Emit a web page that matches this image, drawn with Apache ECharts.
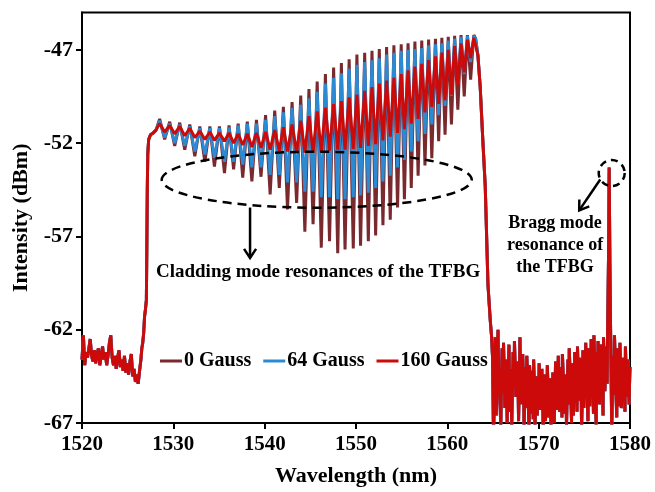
<!DOCTYPE html>
<html><head><meta charset="utf-8">
<script src="https://cdn.jsdelivr.net/npm/echarts@6/dist/echarts.min.js"></script>
<style>html,body{margin:0;padding:0;background:#fff}#c{width:655px;height:492px}</style>
</head><body><div id="c"></div>
<script>
const xTicks = [1520,1530,1540,1550,1560,1570,1580];
const yTicks = [-67,-62,-57,-52,-47];
const seriesNames = ['0 Gauss','64 Gauss','160 Gauss'];

// shared noise floor left of the grating band [nm, dBm]
const leftNoise = [[1520.0,-63.6],[1520.15,-62.3],[1520.3,-63.9],[1520.45,-63.2],[1520.6,-63.5],[1520.75,-63.0],[1520.9,-62.5],[1521.05,-63.4],[1521.2,-63.7],[1521.35,-63.1],[1521.5,-63.8],[1521.65,-63.3],[1521.8,-63.0],[1521.95,-63.9],[1522.1,-63.4],[1522.25,-62.9],[1522.4,-63.6],[1522.55,-63.2],[1522.7,-63.9],[1522.85,-63.4],[1523.0,-62.7],[1523.15,-62.3],[1523.3,-63.5],[1523.45,-63.9],[1523.6,-63.4],[1523.75,-64.1],[1523.9,-63.5],[1524.05,-63.1],[1524.2,-64.0],[1524.35,-63.6],[1524.5,-64.2],[1524.65,-63.4],[1524.8,-64.3],[1524.95,-63.8],[1525.1,-64.4],[1525.25,-63.7],[1525.4,-63.3],[1525.55,-64.5],[1525.7,-64.1],[1525.85,-64.8],[1526.0,-64.4],[1526.15,-64.9],[1526.3,-64.2],[1526.45,-63.6],[1526.55,-63.0],[1526.65,-62.7]];
const riseEdge = [[1526.75,-62.2],[1526.85,-61.3],[1526.95,-60.9],[1527.05,-60.4],[1527.1,-57.5],[1527.15,-54.5],[1527.2,-52.6],[1527.3,-51.8],[1527.5,-51.55],[1527.8,-51.45],[1528.1,-51.3]];

// cladding-mode comb: peak and dip wavelengths
const peakWl = [1528.5,1529.6,1530.7,1531.8,1532.9,1534.0,1535.05,1536.1,1537.1,1538.1,1539.1,1540.1,1541.1,1542.05,1543.0,1543.95,1544.85,1545.75,1546.65,1547.55,1548.4,1549.25,1550.1,1550.95,1551.75,1552.55,1553.35,1554.15,1554.95,1555.7,1556.45,1557.2,1557.95,1558.7,1559.4,1560.1,1560.8,1561.5,1562.2,1562.9];
const dipWl = [1529.05,1530.15,1531.25,1532.35,1533.45,1534.5,1535.6,1536.6,1537.6,1538.6,1539.6,1540.6,1541.6,1542.5,1543.5,1544.4,1545.3,1546.2,1547.1,1548.0,1548.8,1549.7,1550.5,1551.35,1552.15,1552.95,1553.75,1554.55,1555.3,1556.05,1556.8,1557.55,1558.3,1559.05,1559.75,1560.45,1561.15,1561.85,1562.55];

const peaks0 = [-50.7,-50.85,-50.9,-51.0,-51.1,-51.1,-51.1,-51.05,-50.95,-50.85,-50.75,-50.5,-50.25,-50.05,-49.8,-49.45,-49.1,-48.7,-48.3,-47.95,-47.7,-47.5,-47.25,-47.15,-47.05,-46.95,-46.85,-46.75,-46.7,-46.65,-46.55,-46.5,-46.45,-46.4,-46.35,-46.3,-46.25,-46.2,-46.2,-46.2];
const dips0 = [-51.8,-52.15,-52.35,-52.7,-53.0,-53.25,-53.6,-53.4,-53.85,-54.05,-53.8,-54.75,-54.4,-55.55,-55.2,-56.75,-56.35,-57.6,-57.25,-57.9,-57.7,-57.65,-57.5,-57.25,-56.95,-56.4,-56.1,-55.45,-55.0,-54.4,-53.75,-53.2,-52.8,-51.9,-51.55,-51.0,-50.2,-49.5,-48.6];

const peaks64 = [-50.8,-50.95,-51.0,-51.1,-51.2,-51.2,-51.2,-51.15,-51.05,-50.95,-50.95,-50.75,-50.55,-50.35,-50.1,-49.95,-49.6,-49.25,-48.8,-48.5,-48.25,-48.0,-47.8,-47.65,-47.55,-47.45,-47.25,-47.15,-47.05,-47.0,-46.95,-46.9,-46.75,-46.7,-46.65,-46.5,-46.4,-46.3,-46.25,-46.25];
const dips64 = [-51.7,-52.0,-52.15,-52.45,-52.6,-52.8,-53.0,-53.0,-53.15,-53.3,-53.3,-53.7,-53.7,-54.1,-54.1,-54.6,-54.6,-54.9,-54.9,-55.0,-55.0,-54.9,-54.8,-54.65,-54.4,-54.05,-53.75,-53.3,-52.9,-52.45,-51.9,-51.5,-51.0,-50.5,-50.0,-49.45,-48.85,-48.3,-47.65];

const peaks160 = [-50.95,-51.05,-51.1,-51.2,-51.35,-51.4,-51.45,-51.45,-51.5,-51.5,-51.45,-51.4,-51.3,-51.15,-51.0,-50.8,-50.55,-50.3,-50.1,-49.9,-49.75,-49.55,-49.4,-49.2,-49.0,-48.8,-48.65,-48.5,-48.3,-48.1,-47.9,-47.75,-47.55,-47.35,-47.15,-47.0,-46.8,-46.65,-46.45,-46.35];
const dips160 = [-51.4,-51.5,-51.6,-51.7,-51.8,-51.85,-51.9,-52.0,-52.1,-52.2,-52.25,-52.35,-52.4,-52.45,-52.5,-52.5,-52.5,-52.45,-52.4,-52.35,-52.35,-52.3,-52.25,-52.15,-52.05,-51.85,-51.65,-51.45,-51.25,-50.95,-50.7,-50.35,-50.05,-49.9,-49.7,-49.4,-48.9,-48.2,-47.45];

const fallEdge = [[1563.1,-46.4],[1563.35,-47.3],[1563.6,-49.0],[1563.85,-51.5],[1564.15,-54.3],[1564.45,-59.6],[1564.7,-61.5],[1564.85,-62.4]];

// shared noise floor right of the band, including the Bragg resonance
const rightNoise = [[1564.95,-63.5],[1565.05,-67.5],[1565.1,-66.8],[1565.2,-63.9],[1565.25,-62.4],[1565.35,-66.6],[1565.4,-65.9],[1565.5,-63.1],[1565.55,-62.0],[1565.65,-65.5],[1565.7,-64.8],[1565.8,-66.3],[1565.85,-67.4],[1565.95,-64.0],[1566.0,-63.0],[1566.1,-65.4],[1566.15,-62.7],[1566.25,-64.7],[1566.3,-66.2],[1566.4,-64.2],[1566.45,-63.6],[1566.55,-67.0],[1566.6,-65.3],[1566.7,-63.9],[1566.75,-62.8],[1566.85,-66.4],[1566.9,-64.1],[1567.0,-65.8],[1567.05,-67.2],[1567.15,-64.6],[1567.2,-63.2],[1567.3,-65.1],[1567.35,-62.6],[1567.45,-64.4],[1567.5,-65.6],[1567.6,-64.9],[1567.65,-63.7],[1567.75,-65.2],[1567.8,-66.9],[1567.9,-64.3],[1567.95,-62.4],[1568.05,-66.0],[1568.1,-64.6],[1568.2,-65.7],[1568.25,-63.3],[1568.35,-65.0],[1568.4,-67.3],[1568.5,-65.3],[1568.55,-64.0],[1568.65,-66.2],[1568.7,-63.4],[1568.8,-64.7],[1568.85,-65.8],[1568.95,-67.4],[1569.0,-63.9],[1569.1,-65.1],[1569.15,-66.5],[1569.25,-65.0],[1569.3,-64.2],[1569.4,-66.8],[1569.45,-63.6],[1569.55,-65.4],[1569.6,-67.1],[1569.7,-65.7],[1569.75,-64.5],[1569.85,-66.6],[1569.9,-65.2],[1570.0,-66.1],[1570.05,-63.8],[1570.15,-65.0],[1570.2,-66.3],[1570.3,-65.5],[1570.35,-64.1],[1570.45,-66.0],[1570.5,-67.5],[1570.6,-65.2],[1570.65,-64.4],[1570.75,-66.9],[1570.8,-65.4],[1570.9,-66.2],[1570.95,-63.9],[1571.05,-65.6],[1571.1,-66.7],[1571.2,-65.3],[1571.25,-64.6],[1571.35,-67.2],[1571.4,-65.9],[1571.5,-66.4],[1571.55,-64.3],[1571.65,-65.8],[1571.7,-67.0],[1571.8,-65.1],[1571.85,-63.7],[1571.95,-66.3],[1572.0,-65.5],[1572.1,-64.8],[1572.15,-63.4],[1572.25,-65.9],[1572.3,-66.4],[1572.4,-64.9],[1572.45,-64.0],[1572.55,-66.7],[1572.6,-63.3],[1572.7,-64.6],[1572.75,-65.7],[1572.85,-66.5],[1572.9,-64.4],[1573.0,-65.6],[1573.05,-67.2],[1573.15,-64.7],[1573.2,-63.6],[1573.3,-66.0],[1573.35,-63.0],[1573.45,-64.5],[1573.5,-65.1],[1573.6,-67.0],[1573.65,-63.8],[1573.75,-65.3],[1573.8,-66.6],[1573.9,-64.6],[1573.95,-63.2],[1574.05,-65.9],[1574.1,-64.3],[1574.2,-66.4],[1574.25,-62.9],[1574.35,-64.8],[1574.4,-65.8],[1574.5,-64.1],[1574.55,-63.5],[1574.65,-65.4],[1574.7,-67.3],[1574.8,-65.0],[1574.85,-63.1],[1574.95,-66.2],[1575.0,-64.6],[1575.1,-65.7],[1575.15,-62.7],[1575.25,-64.4],[1575.3,-65.4],[1575.4,-66.9],[1575.45,-63.0],[1575.55,-64.9],[1575.6,-66.1],[1575.7,-64.3],[1575.75,-62.5],[1575.85,-65.6],[1575.9,-64.0],[1576.0,-66.5],[1576.05,-62.3],[1576.15,-64.1],[1576.2,-65.7],[1576.3,-67.1],[1576.35,-63.2],[1576.45,-65.0],[1576.5,-62.6],[1576.6,-64.6],[1576.65,-66.0],[1576.75,-64.0],[1576.8,-62.8],[1576.9,-65.5],[1576.95,-64.2],[1577.05,-66.6],[1577.1,-62.4],[1577.2,-64.3],[1577.25,-65.3],[1577.35,-63.8],[1577.4,-62.9],[1577.5,-64.9],[1577.55,-62.0],[1577.65,-58.0],[1577.72,-53.3],[1577.8,-58.5],[1577.88,-62.2],[1578.0,-67.4],[1578.1,-64.6],[1578.15,-63.4],[1578.25,-65.5],[1578.3,-62.3],[1578.4,-64.0],[1578.45,-65.2],[1578.55,-66.7],[1578.6,-63.0],[1578.7,-65.1],[1578.75,-64.4],[1578.85,-66.1],[1578.9,-62.7],[1579.0,-64.5],[1579.05,-66.2],[1579.15,-64.9],[1579.2,-63.5],[1579.3,-65.9],[1579.35,-64.8],[1579.45,-66.4],[1579.5,-62.9],[1579.6,-64.7],[1579.65,-65.6],[1579.75,-64.2],[1579.8,-63.6],[1579.9,-66.0],[1579.95,-64.9],[1580.0,-64.0]];

const colors = ['#7a2a2e','#2b8ad2','#cc0a0a'];
const FONT = "'Times New Roman','Liberation Serif',serif";

function build(peaks, dips){
  const d = leftNoise.concat(riseEdge);
  for (let i = 0; i < peakWl.length; i++){
    d.push([peakWl[i], peaks[i]]);
    if (i < dipWl.length) d.push([dipWl[i], dips[i]]);
  }
  return d.concat(fallEdge, rightNoise);
}
const seriesData = [build(peaks0,dips0), build(peaks64,dips64), build(peaks160,dips160)];

const chart = echarts.init(document.getElementById('c'), null, {renderer:'canvas'});
const axisTxt = {color:'#000', fontFamily:FONT, fontWeight:'bold'};
chart.setOption({
  animation:false,
  backgroundColor:'#fff',
  grid:{left:82, right:25, top:12.6, bottom:68, show:true, borderColor:'#000', borderWidth:2, backgroundColor:'transparent'},
  xAxis:{type:'value', min:1520, max:1580, interval:10,
    axisLine:{show:true, lineStyle:{color:'#000', width:2}},
    axisTick:{show:true, length:6, lineStyle:{color:'#000', width:2}},
    axisLabel:Object.assign({fontSize:21, margin:11, formatter:v => String(v)}, axisTxt),
    splitLine:{show:false},
    name:'Wavelength (nm)', nameLocation:'middle', nameGap:42,
    nameTextStyle:Object.assign({fontSize:22}, axisTxt)},
  yAxis:{type:'value', min:-67, max:-45,
    axisLine:{show:true, lineStyle:{color:'#000', width:2}},
    axisTick:{show:true, length:6, customValues:yTicks, lineStyle:{color:'#000', width:2}},
    axisLabel:Object.assign({fontSize:22, margin:9, customValues:yTicks, formatter:v => String(v)}, axisTxt),
    splitLine:{show:false},
    name:'Intensity (dBm)', nameLocation:'middle', nameGap:50,
    nameTextStyle:Object.assign({fontSize:22}, axisTxt)},
  legend:{data:seriesNames, left:155, top:346, icon:'rect', itemWidth:22, itemHeight:3, itemGap:12,
    textStyle:{color:'#000', fontFamily:FONT, fontWeight:'bold', fontSize:20, padding:[0,0,0,-3]}},
  series:seriesNames.map((n,i)=>({name:n, type:'line', data:seriesData[i], showSymbol:false, symbol:'none',
    lineStyle:{color:colors[i], width:3}, itemStyle:{color:colors[i]}, clip:true, sampling:null}))
});

// annotations anchored in data coordinates
const notes = {
  ellipseC:[1545.7,-53.96], ellipseR:[155,28],
  cladArrow:[[1538.4,-55.45],[1538.4,-58.15]],
  cladText:[1545.85,-58.9],
  braggCircle:[1578.0,-53.6], braggR:13,
  braggArrow:[[1576.74,-53.95],[1574.44,-55.6]],
  braggText:[1571.8,-57.45]
};
const px = p => chart.convertToPixel({gridIndex:0}, p);
function arrow(a, b){
  const A = px(a), B = px(b);
  const dx = B[0]-A[0], dy = B[1]-A[1], L = Math.hypot(dx,dy);
  const ux = dx/L, uy = dy/L, nx = -uy, ny = ux, h = 9, w = 6;
  return [
    {type:'line', shape:{x1:A[0], y1:A[1], x2:B[0], y2:B[1]}, style:{stroke:'#000', lineWidth:2.5}, z:100},
    {type:'polyline', shape:{points:[[B[0]-ux*h+nx*w, B[1]-uy*h+ny*w],[B[0],B[1]],[B[0]-ux*h-nx*w, B[1]-uy*h-ny*w]]},
      style:{stroke:'#000', lineWidth:2.5, fill:null}, z:100}
  ];
}
const eC = px(notes.ellipseC), bC = px(notes.braggCircle), cT = px(notes.cladText), bT = px(notes.braggText);
const g = [
  {type:'ellipse', shape:{cx:eC[0], cy:eC[1], rx:notes.ellipseR[0], ry:notes.ellipseR[1]},
    style:{stroke:'#000', lineWidth:2.5, lineDash:[9,6], fill:null}, z:100},
  {type:'circle', shape:{cx:bC[0], cy:bC[1], r:notes.braggR},
    style:{stroke:'#000', lineWidth:2.5, lineDash:[7,5], fill:null}, z:100},
  {type:'text', x:cT[0], y:cT[1], style:{text:'Cladding mode resonances of the TFBG', fill:'#000',
    font:"bold 19px " + FONT, align:'center', verticalAlign:'middle'}, z:100},
  {type:'text', x:bT[0], y:bT[1], style:{text:'Bragg mode\nresonance of\nthe TFBG', fill:'#000',
    font:"bold 18px " + FONT, align:'center', verticalAlign:'middle', lineHeight:22}, z:100}
].concat(arrow(notes.cladArrow[0], notes.cladArrow[1]), arrow(notes.braggArrow[0], notes.braggArrow[1]));
chart.setOption({graphic:g});
</script></body></html>
